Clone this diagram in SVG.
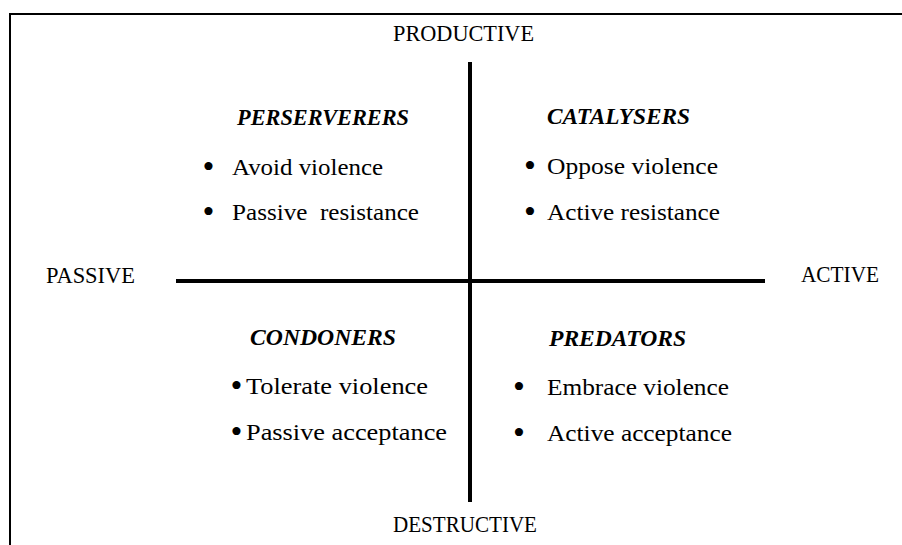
<svg xmlns="http://www.w3.org/2000/svg" width="902" height="545" viewBox="0 0 902 545">
<style>
.lbl{font-family:"Liberation Serif",serif;font-size:24px;fill:#000}
.hd{font-family:"Liberation Serif",serif;font-size:23px;font-weight:bold;font-style:italic;fill:#000}
.bul{font-family:"Liberation Serif",serif;font-size:34px;fill:#000;text-anchor:middle}
.ax{stroke:#000;stroke-width:4;fill:none}
.frame{stroke:#000;stroke-width:2;fill:none}
</style>
<rect width="902" height="545" fill="#fff"/>
<path class="frame" d="M10,545 V14 H902"/>
<g id="connectors">
<line class="ax" x1="470" y1="62" x2="470" y2="502"/>
<line class="ax" x1="176" y1="281" x2="765" y2="281"/>
</g>
<g id="axis-labels">
<text id="productive" class="lbl" x="393" y="41" textLength="141" lengthAdjust="spacingAndGlyphs">PRODUCTIVE</text>
<text id="destructive" class="lbl" x="393" y="532" textLength="144" lengthAdjust="spacingAndGlyphs">DESTRUCTIVE</text>
<text id="passive" class="lbl" x="46" y="283" textLength="89" lengthAdjust="spacingAndGlyphs">PASSIVE</text>
<text id="active" class="lbl" x="801" y="282" textLength="78" lengthAdjust="spacingAndGlyphs">ACTIVE</text>
</g>
<g id="perserverers">
<text class="hd" x="237" y="125" textLength="172" lengthAdjust="spacingAndGlyphs">PERSERVERERS</text>
<text class="bul" x="208.5" y="178">•</text>
<text class="lbl" x="232" y="175" textLength="151" lengthAdjust="spacingAndGlyphs">Avoid violence</text>
<text class="bul" x="208.5" y="223">•</text>
<text class="lbl" x="232" y="220" textLength="187" lengthAdjust="spacingAndGlyphs" xml:space="preserve">Passive  resistance</text>
</g>
<g id="catalysers">
<text class="hd" x="547" y="124" textLength="143" lengthAdjust="spacingAndGlyphs">CATALYSERS</text>
<text class="bul" x="530" y="177">•</text>
<text class="lbl" x="547" y="174" textLength="171" lengthAdjust="spacingAndGlyphs">Oppose violence</text>
<text class="bul" x="530" y="223">•</text>
<text class="lbl" x="547" y="220" textLength="173" lengthAdjust="spacingAndGlyphs">Active resistance</text>
</g>
<g id="condoners">
<text class="hd" x="250" y="345" textLength="146" lengthAdjust="spacingAndGlyphs">CONDONERS</text>
<text class="bul" x="236.5" y="397">•</text>
<text class="lbl" x="246" y="394" textLength="182" lengthAdjust="spacingAndGlyphs">Tolerate violence</text>
<text class="bul" x="236.5" y="443">•</text>
<text class="lbl" x="246" y="440" textLength="201" lengthAdjust="spacingAndGlyphs">Passive acceptance</text>
</g>
<g id="predators">
<text class="hd" x="549" y="346" textLength="137" lengthAdjust="spacingAndGlyphs">PREDATORS</text>
<text class="bul" x="519" y="398">•</text>
<text class="lbl" x="547" y="395" textLength="182" lengthAdjust="spacingAndGlyphs">Embrace violence</text>
<text class="bul" x="519" y="444">•</text>
<text class="lbl" x="547" y="441" textLength="185" lengthAdjust="spacingAndGlyphs">Active acceptance</text>
</g>
</svg>
